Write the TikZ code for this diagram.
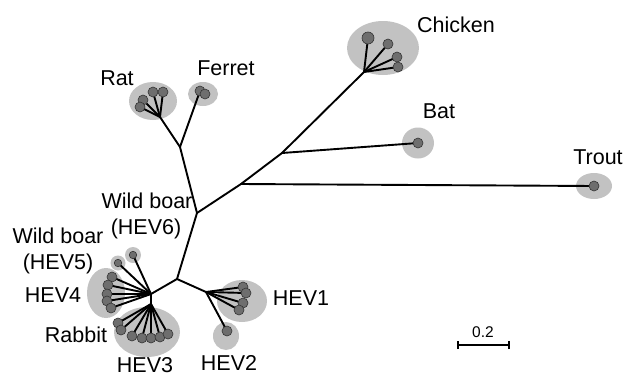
\documentclass[tikz,border=0pt]{standalone}
\usepackage{fontspec}
\setmainfont{Liberation Sans}
\usetikzlibrary{shapes.geometric}
\pgfdeclarelayer{halo}
\pgfdeclarelayer{edges}
\pgfsetlayers{halo,edges,main}

\begin{document}
\begin{tikzpicture}[x=1pt,y=-1pt,
  branch/.style={line width=1.9pt, line cap=round, line join=round},
  dot/.style={circle, inner sep=0pt, minimum size=10pt, fill=black!57, draw=black!80, line width=0.6pt},
  smalldot/.style={dot, minimum size=7.5pt},
  halo/.style={ellipse, inner sep=0pt, fill=black!24},
  lbl/.style={font=\fontsize{21.5}{24}\selectfont, inner sep=0pt, anchor=base},
  scalelbl/.style={font=\fontsize{15.5}{17}\selectfont, inner sep=0pt, anchor=base},
]
\useasboundingbox (0,0) rectangle (634,378);

% ---------- internal nodes of the tree ----------
\coordinate (j6)  at (197,213);   % wild boar HEV6
\coordinate (jRF) at (180,147);   % rat / ferret
\coordinate (jR)  at (160,117);   % rat
\coordinate (jT)  at (241,184);   % trout split
\coordinate (jB)  at (282,153);   % bat split
\coordinate (jC)  at (364,72);    % chicken
\coordinate (jL)  at (177,279);   % human / swine genotypes
\coordinate (j45) at (151,294);   % HEV3/4/5
\coordinate (j3)  at (151,304);   % HEV3 + rabbit
\coordinate (j12) at (206,292);   % HEV1/2

% ---------- shaded clusters ----------
\begin{pgfonlayer}{halo}
  \node[halo, minimum width=72pt, minimum height=54pt] (hChicken) at (383,48) {};
  \node[halo, minimum width=32pt, minimum height=31pt] (hBat) at (418,143) {};
  \node[halo, minimum width=36pt, minimum height=26pt] (hTrout) at (594,186) {};
  \node[halo, minimum width=48pt, minimum height=38pt] (hRat) at (153,101) {};
  \node[halo, minimum width=30pt, minimum height=24pt] (hFerret) at (203,94) {};
  \node[halo, minimum width=38pt, minimum height=50pt] (hHEV4) at (106,293) {};
  \node[halo, minimum width=16pt, minimum height=16pt] (hHEV5a) at (133,255) {};
  \node[halo, minimum width=15pt, minimum height=15pt] (hHEV5b) at (118,263) {};
  \node[halo, minimum width=66pt, minimum height=50pt] (hHEV3) at (147,332) {};
  \node[halo, minimum width=50pt, minimum height=42pt] (hHEV1) at (242,301) {};
  \node[halo, minimum width=26pt, minimum height=28pt] (hHEV2) at (226,336) {};
\end{pgfonlayer}

% ---------- leaves ----------
\node[dot, minimum width=12pt, minimum height=10pt] (c1) at (368,38) {};
\node[dot] (c2) at (388,44) {};
\node[dot] (c3) at (397,57) {};
\node[dot] (c4) at (398,67) {};
\node[dot] (bat) at (418,143) {};
\node[dot] (trout) at (594,186) {};
\node[dot] (r1) at (153,92) {};
\node[dot] (r2) at (163,92) {};
\node[dot] (r3) at (143,100) {};
\node[dot] (r4) at (140,107) {};
\node[dot] (f1) at (200,91) {};
\node[dot] (f2) at (205,94) {};
\node[smalldot] (v1) at (133,255) {};
\node[smalldot] (v2) at (118,263) {};
\node[dot] (g1) at (112,277) {};
\node[dot] (g2) at (108,285) {};
\node[dot] (g3) at (107,294) {};
\node[dot] (g4) at (107,301) {};
\node[dot] (g5) at (111,308) {};
\node[dot] (rb1) at (118,323) {};
\node[dot] (rb2) at (121,330) {};
\node[dot] (t1) at (132,336) {};
\node[dot] (t2) at (142,338) {};
\node[dot] (t3) at (151,338) {};
\node[dot] (t4) at (160,337) {};
\node[dot] (t5) at (168,334) {};
\node[dot] (h1) at (243,287) {};
\node[dot] (h2) at (246,293) {};
\node[dot] (h3) at (243,303) {};
\node[dot] (h4) at (239,310) {};
\node[dot] (h5) at (227,331) {};

% ---------- branches ----------
\begin{pgfonlayer}{edges}
  \draw[branch] (j6) -- (jRF) -- (jR);
  \draw[branch] (jRF) -- (f1.center);
  \foreach \n in {r1,r2,r3,r4} \draw[branch] (jR) -- (\n.center);
  \draw[branch] (j6) -- (jT) -- (jB) -- (jC);
  \draw[branch] (jT) -- (trout.center);
  \draw[branch] (jB) -- (bat.center);
  \foreach \n in {c1,c2,c3,c4} \draw[branch] (jC) -- (\n.center);
  \draw[branch] (j6) -- (jL) -- (j45) -- (j3);
  \draw[branch] (jL) -- (j12);
  \foreach \n in {v1,v2,g1,g2,g3,g4,g5} \draw[branch] (j45) -- (\n.center);
  \foreach \n in {rb1,rb2,t1,t2,t3,t4,t5} \draw[branch] (j3) -- (\n.center);
  \foreach \n in {h1,h2,h3,h4,h5} \draw[branch] (j12) -- (\n.center);
\end{pgfonlayer}

% ---------- labels ----------
\node[lbl] (lChicken) at (456,32) {Chicken};
\node[lbl] (lBat) at (439,118) {Bat};
\node[lbl] (lTrout) at (598,164) {Trout};
\node[lbl] (lRat) at (117,85) {Rat};
\node[lbl] (lFerret) at (226,75) {Ferret};
\node[lbl] (lWB6a) at (147,208) {Wild boar};
\node[lbl] (lWB6b) at (146,234) {(HEV6)};
\node[lbl] (lWB5a) at (58,243) {Wild boar};
\node[lbl] (lWB5b) at (58,269) {(HEV5)};
\node[lbl] (lHEV4) at (53,302) {HEV4};
\node[lbl] (lRabbit) at (76,342) {Rabbit};
\node[lbl] (lHEV3) at (145,372) {HEV3};
\node[lbl] (lHEV2) at (229,370) {HEV2};
\node[lbl] (lHEV1) at (301,305) {HEV1};

% ---------- scale bar ----------
\coordinate (sL) at (458,345);
\coordinate (sR) at (509,345);
\draw[line width=1.4pt] (sL) -- (sR);
\draw[line width=1.4pt] ([yshift=-4pt]sL) -- ([yshift=4pt]sL);
\draw[line width=1.4pt] ([yshift=-4pt]sR) -- ([yshift=4pt]sR);
\node[scalelbl] (lScale) at (483,337) {0.2};
\end{tikzpicture}
\end{document}
